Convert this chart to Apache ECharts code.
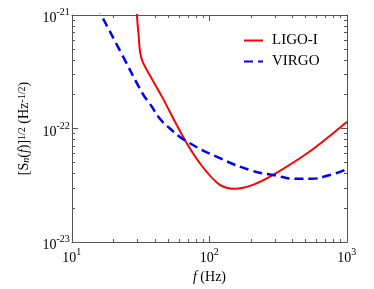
<!DOCTYPE html>
<html><head><meta charset="utf-8">
<script src="https://cdn.jsdelivr.net/npm/echarts@6/dist/echarts.min.js"></script>
<style>html,body{margin:0;padding:0;background:#fff}#c{width:374px;height:289px}</style>
</head><body><div id="c"></div>
<script>
// Data
const freqLIGO = [29.5, 29.7, 30.5, 31.3, 32.8, 38.2, 45.2, 66.4, 88.1, 119, 153, 207, 290, 538, 1000];
const snLIGO   = [3e-21, 1.0e-21, 6.70e-22, 4.68e-22, 3.83e-22, 2.72e-22, 1.90e-22, 7.87e-23, 4.68e-23, 3.19e-23, 2.95e-23, 3.19e-23, 3.90e-23, 6.31e-23, 1.15e-22];
const freqVIRGO = [15, 16.3, 23.1, 32.8, 36.9, 43.6, 51.6, 66.4, 119, 207, 290, 433, 538, 752, 1000];
const snVIRGO   = [1.2e-21, 1.0e-21, 4.49e-22, 2.01e-22, 1.65e-22, 1.22e-22, 1.0e-22, 7.87e-23, 5.48e-23, 4.23e-23, 3.90e-23, 3.61e-23, 3.61e-23, 3.90e-23, 4.40e-23];
const seriesNames = ['LIGO-I', 'VIRGO'];

const xMajorTicks = [10, 100, 1000];
const xTickExp = ['1', '2', '3'];
const xMinorTicks = [20, 30, 40, 50, 60, 70, 80, 90, 200, 300, 400, 500, 600, 700, 800, 900];
const yMajorTicks = [1e-23, 1e-22, 1e-21];
const yTickExp = ['-23', '-22', '-21'];
const yMinorTicks = [2e-23, 3e-23, 4e-23, 5e-23, 6e-23, 7e-23, 8e-23, 9e-23,
                     2e-22, 3e-22, 4e-22, 5e-22, 6e-22, 7e-22, 8e-22, 9e-22];

const FONT = 'Liberation Serif';
const AX = '#555';

function expFor(v, ticks, exps) {
  let best = 0, bd = Infinity;
  ticks.forEach((t, i) => { const d = Math.abs(Math.log10(t) - Math.log10(v)); if (d < bd) { bd = d; best = i; } });
  return exps[best];
}
function expForDecade(d) {
  let best = 0, bd = Infinity;
  yMajorTicks.forEach((t, i) => { const dd = Math.abs(Math.log10(t) - d); if (dd < bd) { bd = dd; best = i; } });
  return yTickExp[best];
}
const labelRich = {
  b: { fontFamily: FONT, fontSize: 14, lineHeight: 14, verticalAlign: 'bottom', color: '#000' },
  s: { fontFamily: FONT, fontSize: 10, lineHeight: 10, verticalAlign: 'top', color: '#000' },
  g: { fontSize: 1, lineHeight: 18 }
};

function xAxisDef(pos, opts) {
  return Object.assign({
    type: 'log', logBase: 10, min: 10, max: 1000, position: pos,
    splitLine: { show: false }, minorTick: { show: false }, minorSplitLine: { show: false },
    axisLine: { show: opts.line, onZero: false, lineStyle: { color: AX, width: 1 } },
    axisTick: { show: true, inside: true, length: opts.len, lineStyle: { color: AX, width: 1 },
                customValues: opts.ticks },
    axisLabel: { show: false }
  }, opts.extra || {});
}
// helper axes measured in decades of the log y axis, used only for ticks / labels
function yDecadeDef(pos, opts) {
  return Object.assign({
    type: 'value', min: Math.log10(yMajorTicks[0]), max: Math.log10(yMajorTicks[yMajorTicks.length - 1]),
    position: pos, splitLine: { show: false },
    axisLine: { show: opts.line, onZero: false, lineStyle: { color: AX, width: 1 } },
    axisTick: { show: true, inside: true, length: opts.len, lineStyle: { color: AX, width: 1 },
                customValues: opts.ticks.map(v => Math.log10(v)) },
    axisLabel: { show: false }
  }, opts.extra || {});
}

const chart = echarts.init(document.getElementById('c'), null, { renderer: 'canvas' });
chart.setOption({
  animation: false,
  backgroundColor: '#fff',
  grid: { left: 72, right: 27, top: 15, bottom: 44, containLabel: false },
  legend: {
    orient: 'vertical', left: 238, top: 28, itemGap: 6,
    itemWidth: 19, itemHeight: 12,
    itemStyle: { opacity: 0 },
    textStyle: { fontFamily: FONT, fontSize: 15, color: '#000', padding: [0, 0, 0, 4] },
    data: seriesNames
  },
  xAxis: [
    xAxisDef('bottom', { line: true, len: 6, ticks: xMajorTicks, extra: {
      name: '{it|f} (Hz)', nameLocation: 'middle', nameGap: 22,
      nameTextStyle: { fontFamily: FONT, fontSize: 14, color: '#000',
        rich: { it: { fontFamily: FONT, fontSize: 14, fontStyle: 'italic', color: '#000' } } },
      axisLabel: { show: true, margin: 5, customValues: xMajorTicks,
        formatter: v => '{b|10}{s|' + expFor(v, xMajorTicks, xTickExp) + '}{g| }', rich: labelRich }
    } }),
    xAxisDef('top', { line: true, len: 6, ticks: xMajorTicks }),
    xAxisDef('bottom', { line: false, len: 3, ticks: xMinorTicks }),
    xAxisDef('top', { line: false, len: 3, ticks: xMinorTicks })
  ],
  yAxis: [
    { // the log axis that carries the data
      type: 'log', logBase: 10, min: yMajorTicks[0], max: yMajorTicks[yMajorTicks.length - 1], position: 'left',
      splitLine: { show: false }, minorTick: { show: false }, minorSplitLine: { show: false },
      axisLine: { show: true, onZero: false, lineStyle: { color: AX, width: 1 } },
      axisTick: { show: false, customValues: yMajorTicks },
      axisLabel: { show: false, customValues: yMajorTicks }
    },
    yDecadeDef('left', { line: false, len: 6, ticks: yMajorTicks, extra: {
      name: '[S{sub|n}({it|f})]{sup|1/2} (Hz{sup|-1/2})', nameLocation: 'middle', nameGap: 40, nameRotate: 90,
      nameTextStyle: { fontFamily: FONT, fontSize: 14, color: '#000',
        rich: {
          it: { fontFamily: FONT, fontSize: 14, fontStyle: 'italic', color: '#000' },
          sub: { fontFamily: FONT, fontSize: 10, fontStyle: 'italic', lineHeight: 10, verticalAlign: 'bottom', color: '#000' },
          sup: { fontFamily: FONT, fontSize: 10, lineHeight: 10, verticalAlign: 'top', color: '#000' }
        } },
      axisLabel: { show: true, margin: 2, padding: [3, 0, 0, 0],
        customValues: yMajorTicks.map(v => Math.log10(v)),
        formatter: v => '{b|10}{s|' + expForDecade(v) + '}{g| }', rich: labelRich }
    } }),
    yDecadeDef('right', { line: true, len: 6, ticks: yMajorTicks }),
    yDecadeDef('left', { line: false, len: 3, ticks: yMinorTicks }),
    yDecadeDef('right', { line: false, len: 3, ticks: yMinorTicks })
  ],
  series: [
    {
      name: seriesNames[0], type: 'line', xAxisIndex: 0, yAxisIndex: 0,
      data: freqLIGO.map((f, i) => [f, snLIGO[i]]),
      showSymbol: false, symbol: 'none', smooth: 0.3, clip: true,
      lineStyle: { color: '#ff0000', width: 2 }, itemStyle: { color: '#ff0000' }
    },
    {
      name: seriesNames[1], type: 'line', xAxisIndex: 0, yAxisIndex: 0,
      data: freqVIRGO.map((f, i) => [f, snVIRGO[i]]),
      showSymbol: false, symbol: 'none', smooth: 0.5, clip: true,
      lineStyle: { color: '#0000ff', width: 2.5, type: [9, 5] }, itemStyle: { color: '#0000ff' }
    }
  ]
});
</script></body></html>
